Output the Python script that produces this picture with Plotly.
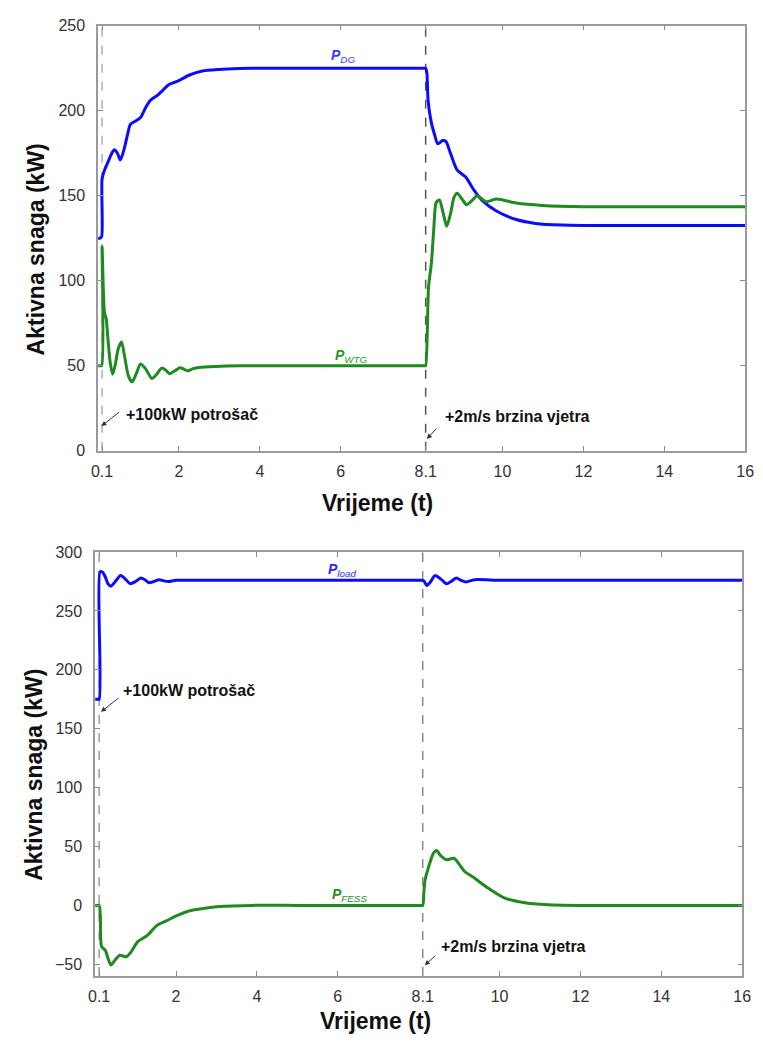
import plotly.graph_objects as go

# gornji graf: P_DG i P_WTG
t_dg = [0, 0.05, 0.09, 0.1, 0.16, 0.25, 0.32, 0.4, 0.48, 0.55, 0.64, 0.72, 0.8, 0.93, 1.05, 1.18, 1.29,
        1.4, 1.49, 1.6, 1.73, 1.87, 2.02, 2.26, 2.58, 2.99, 3.5, 4, 5, 6, 7, 7.8, 8.05, 8.1, 8.13, 8.16,
        8.24, 8.32, 8.4, 8.52, 8.6, 8.72, 8.88, 9.09, 9.29, 9.53, 9.85, 10.34, 10.82, 11.47, 12, 13, 14,
        15, 16]
p_dg = [125, 125, 126, 160, 165, 170, 174, 177, 175, 171, 177, 185, 192, 194, 196, 202, 206,
        208, 209.5, 212, 215, 216.5, 218, 221, 223.4, 224.3, 224.8, 225, 225, 225, 225, 225, 225, 225, 222, 206,
        193, 186, 180.5, 182.5, 182, 174.5, 165, 161, 153.5, 146.5, 141, 136, 133.7, 132.7, 132.5, 132.5, 132.5,
        132.5, 132.5]

t_wtg = [0, 0.05, 0.09, 0.1, 0.13, 0.16, 0.2, 0.24, 0.3, 0.36, 0.42, 0.5, 0.58, 0.66, 0.75, 0.84, 0.94,
         1.05, 1.18, 1.33, 1.45, 1.57, 1.67, 1.77, 1.9, 2.02, 2.12, 2.22, 2.35, 2.5, 2.9, 3.5, 4.5, 5.5,
         6.5, 7.5, 8.0, 8.08, 8.1, 8.17, 8.24, 8.3, 8.36, 8.44, 8.53, 8.62, 8.72, 8.8, 8.88, 9.0, 9.11,
         9.24, 9.37, 9.6, 9.85, 10.34, 10.98, 12, 13, 14, 15, 16]
p_wtg = [50, 50, 50, 120, 95, 81, 78, 67, 52, 45, 50, 60, 64, 55, 44, 40.5, 45,
         51, 48, 42.5, 45, 48.6, 47.5, 45.3, 47, 48.8, 48, 47, 48.3, 49, 49.6, 50, 50, 50,
         50, 50, 50, 50, 50, 96, 110, 130, 146, 147.5, 140, 132, 140, 149, 151.5, 148, 144.7,
         147, 150, 146.5, 148, 145.7, 144.3, 143.5, 143.5, 143.5, 143.5, 143.5]

# donji graf: P_load i P_FESS
t_load = [0, 0.05, 0.1, 0.12, 0.18, 0.25, 0.32, 0.39, 0.5, 0.63, 0.75, 0.87, 1.0, 1.13, 1.23, 1.33, 1.45,
          1.58, 1.7, 1.82, 2.0, 3, 4, 5, 6, 7, 7.8, 8.05, 8.1, 8.14, 8.2, 8.3, 8.4, 8.55, 8.69, 8.8, 8.93,
          9.05, 9.17, 9.38, 10, 11, 12, 13, 14, 15, 16]
p_load = [175, 175, 175, 283, 283, 279, 273, 271, 275, 280, 277, 273, 275, 278, 276.5, 274, 275,
          276.5, 275.5, 275, 276, 276, 276, 276, 276, 276, 276, 276, 276, 275, 271.5, 275, 280, 277, 273, 275, 278,
          276, 274.6, 276.5, 276, 276, 276, 276, 276, 276, 276]

t_fess = [0, 0.05, 0.1, 0.13, 0.16, 0.25, 0.32, 0.39, 0.48, 0.61, 0.77, 0.89, 1.05, 1.29, 1.53, 1.77, 2.02,
          2.34, 2.67, 3.07, 3.9, 5, 6, 7, 7.8, 8.05, 8.1, 8.13, 8.16, 8.24, 8.36, 8.44, 8.55, 8.69, 8.87,
          9.0, 9.13, 9.37, 9.7, 10.1, 10.59, 11.2, 12, 13, 14, 15, 16]
p_fess = [0, 0, 0, -10, -35, -38, -45, -50.6, -47, -42.3, -43.6, -39.5, -31, -25.5, -17, -13, -8.8,
          -4.6, -2.6, -1, 0, 0, 0, 0, 0, 0, 0, 12, 22, 32, 44, 46.5, 42, 38.7, 40,
          35, 29, 23.4, 15, 6.6, 2.4, 0.5, 0, 0, 0, 0, 0]

x_ticks = [0.1, 2, 4, 6, 8.1, 10, 12, 14, 16]
x_ticktext = ["0.1", "2", "4", "6", "8.1", "10", "12", "14", "16"]
y1_ticks = [0, 50, 100, 150, 200, 250]
y2_ticks = [-50, 0, 50, 100, 150, 200, 250, 300]

W, H = 763, 1049
BLUE = "#0b0bff"
GREEN = "#1f8a1f"

fig = go.Figure()
for tx, py, col, xa, ya in [(t_dg, p_dg, BLUE, "x", "y"), (t_wtg, p_wtg, GREEN, "x", "y"),
                            (t_load, p_load, BLUE, "x2", "y2"), (t_fess, p_fess, GREEN, "x2", "y2")]:
    fig.add_trace(go.Scatter(x=tx, y=py, mode="lines",
                             line=dict(color=col, width=3, shape="spline", smoothing=0.7),
                             xaxis=xa, yaxis=ya))

axis_style = dict(
    showline=True, linecolor="#9a9a9a", linewidth=1.5, mirror="allticks",
    ticks="inside", ticklen=5, tickcolor="#8a8a8a", tickwidth=1.2,
    showgrid=False, zeroline=False,
    tickfont=dict(family="Liberation Sans, Arial", size=16, color="#333333"),
)

fig.update_layout(
    width=W, height=H,
    margin=dict(l=0, r=0, t=0, b=0),
    paper_bgcolor="white", plot_bgcolor="white",
    showlegend=False,
    xaxis=dict(axis_style, domain=[93 / W, 754 / W], range=[0, 16], tickvals=x_ticks, ticktext=x_ticktext,
               anchor="y", ticklabelstandoff=5),
    yaxis=dict(axis_style, domain=[1 - 450 / H, 1 - 18 / H], range=[0, 250], tickvals=y1_ticks, anchor="x",
               ticklabelstandoff=8),
    xaxis2=dict(axis_style, domain=[90 / W, 751 / W], range=[0, 16], tickvals=x_ticks, ticktext=x_ticktext,
                anchor="y2", ticklabelstandoff=5),
    yaxis2=dict(axis_style, domain=[1 - 984 / H, 1 - 553 / H], range=[-60, 300], tickvals=y2_ticks,
                anchor="x2", ticklabelstandoff=8),
)

# isprekidane linije za dogadjaje (ispod krivulja)
for xr, yr, x0, col in [("x", "y", 0.1, "#b0b0b0"), ("x", "y", 8.1, "#555555"),
                        ("x2", "y2", 0.1, "#9a9a9a"), ("x2", "y2", 8.1, "#8a8a8a")]:
    fig.add_shape(type="line", xref=xr, yref=yr + " domain", x0=x0, x1=x0, y0=0, y1=1, layer="below",
                  line=dict(color=col, width=1.5, dash="dash"))

title_font = dict(family="Liberation Sans, Arial", size=23, color="#101010")
lbl_font = dict(family="Liberation Sans, Arial", size=16, color="#111111")
mid = dict(xanchor="center", yanchor="middle", showarrow=False)

annotations = [
    # naslovi osi
    dict(mid, text="<b>Aktivna snaga (kW)</b>", xref="paper", yref="paper", x=30 / W, y=1 - 245 / H,
         textangle=-90, font=title_font),
    dict(mid, text="<b>Aktivna snaga (kW)</b>", xref="paper", yref="paper", x=28 / W, y=1 - 779 / H,
         textangle=-90, font=title_font),
    dict(mid, text="<b>Vrijeme (t)</b>", xref="paper", yref="paper", x=378 / W, y=1 - 503 / H,
         font=title_font),
    dict(mid, text="<b>Vrijeme (t)</b>", xref="paper", yref="paper", x=376 / W, y=1 - 1030 / H,
         font=title_font),
    # oznake krivulja
    dict(mid, text="<b><i>P</i></b><sub><i>DG</i></sub>", xref="x", yref="y", x=6.05, y=232,
         font=dict(family="Liberation Sans, Arial", size=14, color="#3a3aff")),
    dict(mid, text="<b><i>P</i></b><sub><i>WTG</i></sub>", xref="x", yref="y", x=6.27, y=56,
         font=dict(family="Liberation Sans, Arial", size=14, color="#2a9a2a")),
    dict(mid, text="<b><i>P</i></b><sub><i>load</i></sub>", xref="x2", yref="y2", x=6.1, y=285,
         font=dict(family="Liberation Sans, Arial", size=14, color="#2a2aff")),
    dict(mid, text="<b><i>P</i></b><sub><i>FESS</i></sub>", xref="x2", yref="y2", x=6.3, y=8.5,
         font=dict(family="Liberation Sans, Arial", size=14, color="#2a8a2a")),
    # dogadjaji
    dict(text="<b>+100kW potrošač</b>", xref="x", yref="y", x=0.64, y=21.4, xanchor="left",
         yanchor="middle", showarrow=False, font=lbl_font),
    dict(text="<b>+2m/s brzina vjetra</b>", xref="x", yref="y", x=8.52, y=20.3, xanchor="left",
         yanchor="middle", showarrow=False, font=lbl_font),
    dict(text="<b>+100kW potrošač</b>", xref="x2", yref="y2", x=0.65, y=182.7, xanchor="left",
         yanchor="middle", showarrow=False, font=lbl_font),
    dict(text="<b>+2m/s brzina vjetra</b>", xref="x2", yref="y2", x=8.5, y=-35, xanchor="left",
         yanchor="middle", showarrow=False, font=lbl_font),
]

# strelice
for xr, yr, hx, hy, ax, ay in [("x", "y", 0.085, 14.5, 19, -15), ("x", "y", 8.13, 6.9, 11, -12),
                               ("x2", "y2", 0.145, 164.3, 19, -15), ("x2", "y2", 8.15, -50.9, 12, -11)]:
    annotations.append(dict(text="", xref=xr, yref=yr, x=hx, y=hy, ax=ax, ay=ay, showarrow=True,
                            arrowhead=2, arrowsize=1, arrowwidth=1, arrowcolor="#333333"))

fig.update_layout(annotations=annotations)

# bez margine tijela stranice, da slika pocne u kutu
fig.write_html("out.html", config={"displayModeBar": False},
               post_script="document.body.style.margin='0';")
